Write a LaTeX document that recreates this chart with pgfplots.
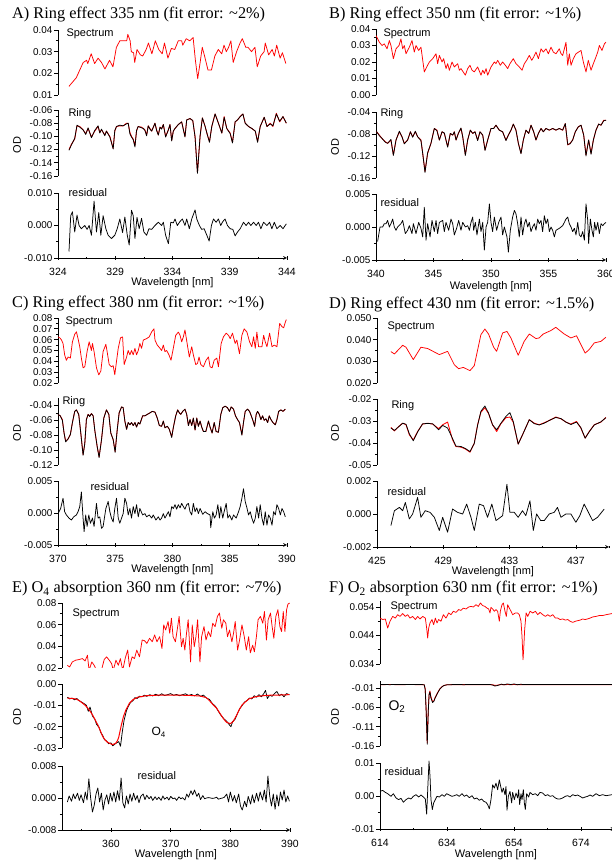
\documentclass[border=0pt]{standalone}
\usepackage{fontspec}
\setmainfont{Liberation Serif}
\setsansfont{Liberation Sans}
\usepackage{pgfplots}
\usepackage{pgfplotstable}
\pgfplotsset{compat=1.18}

\newcommand\tickfont{\sffamily\fontsize{9.9}{11}\selectfont}
\newcommand\xtickfont{\sffamily\fontsize{10.5}{12}\selectfont}
\newcommand\lblfont{\sffamily\fontsize{11}{13}\selectfont}
\newcommand\ttlfont{\rmfamily\fontsize{16.3}{19}\selectfont}
\definecolor{specred}{RGB}{255,0,0}

\pgfplotsset{
  base/.style={
    scale only axis, enlargelimits=false,
    axis y line=left,
    axis line style={-, line width=0.7pt},
    tick align=outside,
    major tick length=4pt, minor tick length=2.2pt,
    tick style={black, line width=0.7pt},
    minor y tick num=1,
    scaled y ticks=false, scaled x ticks=false,
    /pgf/number format/assume math mode=true,
    tick label style={font=\tickfont},
    yticklabel style={inner sep=1.5pt},
    every axis plot/.append style={line width=0.75pt, line join=round, mark=none},
  },
  sub/.style={base, axis x line=none, xtick=\empty},
  subbottom/.style={base, axis x line=bottom,
    xticklabel style={font=\xtickfont, inner sep=2pt, yshift=-6pt}},
}

% ---------------- Ring tables: wavelength, fitted reference, measured ----------------
\pgfplotstableread{
x fit obs
324.96 -0.120 -0.121
325.17 -0.112 -0.113
325.46 -0.104 -0.103
325.66 -0.084 -0.083
325.90 -0.085 -0.086
326.19 -0.090 -0.090
326.42 -0.096 -0.097
326.63 -0.088 -0.087
326.92 -0.101 -0.102
327.21 -0.092 -0.091
327.50 -0.085 -0.084
327.65 -0.094 -0.095
327.80 -0.090 -0.089
328.09 -0.098 -0.099
328.23 -0.092 -0.092
328.53 -0.100 -0.101
328.82 -0.118 -0.119
328.96 -0.092 -0.091
329.11 -0.085 -0.085
329.40 -0.084 -0.083
329.69 -0.084 -0.084
329.99 -0.080 -0.081
330.13 -0.080 -0.080
330.28 -0.094 -0.096
330.42 -0.100 -0.101
330.57 -0.104 -0.105
330.72 -0.114 -0.116
330.86 -0.092 -0.091
331.00 -0.085 -0.085
331.30 -0.086 -0.087
331.45 -0.088 -0.088
331.59 -0.090 -0.091
331.74 -0.098 -0.099
331.88 -0.084 -0.084
332.03 -0.088 -0.089
332.18 -0.092 -0.092
332.47 -0.080 -0.080
332.61 -0.090 -0.091
332.76 -0.098 -0.098
332.91 -0.086 -0.086
333.05 -0.088 -0.089
333.20 -0.082 -0.082
333.40 -0.100 -0.101
333.64 -0.090 -0.090
333.78 -0.082 -0.082
333.93 -0.106 -0.107
334.07 -0.092 -0.092
334.22 -0.088 -0.088
334.51 -0.082 -0.082
334.80 -0.078 -0.078
335.09 -0.100 -0.101
335.24 -0.075 -0.075
335.53 -0.073 -0.073
335.77 -0.076 -0.076
335.97 -0.100 -0.101
336.18 -0.155 -0.156
336.41 -0.100 -0.099
336.61 -0.072 -0.072
336.85 -0.085 -0.085
337.05 -0.098 -0.098
337.23 -0.108 -0.109
337.43 -0.085 -0.085
337.72 -0.066 -0.066
338.01 -0.080 -0.080
338.31 -0.095 -0.095
338.51 -0.070 -0.071
338.74 -0.088 -0.088
339.04 -0.095 -0.096
339.24 -0.109 -0.110
339.47 -0.078 -0.078
339.68 -0.075 -0.075
339.91 -0.070 -0.070
340.15 -0.066 -0.066
340.35 -0.080 -0.080
340.64 -0.085 -0.085
340.93 -0.088 -0.088
341.23 -0.092 -0.092
341.43 -0.108 -0.109
341.66 -0.085 -0.085
342.01 -0.071 -0.071
342.25 -0.085 -0.085
342.54 -0.080 -0.081
342.77 -0.085 -0.084
343.07 -0.065 -0.066
343.36 -0.078 -0.077
343.65 -0.070 -0.070
343.94 -0.080 -0.080
}\ringA

\pgfplotstableread{
x fit obs
340.06 -0.076 -0.076
340.29 -0.082 -0.083
340.52 -0.088 -0.088
340.81 -0.094 -0.095
341.01 -0.097 -0.097
341.30 -0.091 -0.090
341.51 -0.118 -0.119
341.74 -0.091 -0.091
342.03 -0.076 -0.075
342.26 -0.085 -0.085
342.46 -0.097 -0.098
342.75 -0.091 -0.091
342.99 -0.076 -0.076
343.19 -0.085 -0.086
343.42 -0.076 -0.075
343.62 -0.085 -0.085
343.91 -0.091 -0.092
344.06 -0.115 -0.115
344.26 -0.148 -0.150
344.49 -0.115 -0.114
344.78 -0.097 -0.097
345.07 -0.070 -0.070
345.30 -0.073 -0.074
345.51 -0.091 -0.091
345.74 -0.076 -0.076
345.94 -0.079 -0.078
346.23 -0.103 -0.104
346.46 -0.079 -0.079
346.67 -0.082 -0.082
346.81 -0.076 -0.076
346.96 -0.091 -0.091
347.16 -0.079 -0.079
347.39 -0.070 -0.069
347.54 -0.085 -0.085
347.77 -0.118 -0.119
347.97 -0.091 -0.091
348.20 -0.073 -0.073
348.41 -0.079 -0.079
348.61 -0.076 -0.076
348.84 -0.091 -0.092
349.04 -0.076 -0.076
349.28 -0.082 -0.082
349.48 -0.109 -0.110
349.71 -0.091 -0.091
350.00 -0.070 -0.070
350.23 -0.070 -0.070
350.43 -0.064 -0.064
350.72 -0.073 -0.073
351.01 -0.076 -0.076
351.30 -0.091 -0.092
351.51 -0.082 -0.082
351.74 -0.073 -0.073
351.94 -0.062 -0.062
352.17 -0.073 -0.073
352.38 -0.097 -0.097
352.61 -0.115 -0.116
352.81 -0.091 -0.091
353.04 -0.073 -0.073
353.28 -0.079 -0.079
353.48 -0.064 -0.064
353.71 -0.076 -0.076
353.91 -0.091 -0.091
354.12 -0.079 -0.079
354.35 -0.070 -0.070
354.55 -0.076 -0.076
354.78 -0.070 -0.070
355.07 -0.073 -0.073
355.36 -0.070 -0.070
355.65 -0.073 -0.073
355.94 -0.070 -0.070
356.23 -0.073 -0.073
356.46 -0.061 -0.061
356.67 -0.100 -0.099
356.87 -0.097 -0.098
357.10 -0.091 -0.091
357.33 -0.076 -0.076
357.59 -0.067 -0.067
357.83 -0.064 -0.064
358.06 -0.082 -0.082
358.26 -0.118 -0.120
358.49 -0.091 -0.091
358.70 -0.115 -0.117
358.90 -0.091 -0.091
359.13 -0.073 -0.073
359.36 -0.062 -0.062
359.57 -0.064 -0.064
359.80 -0.055 -0.056
360.00 -0.055 -0.055
}\ringB

\pgfplotstableread{
x fit obs
370.00 -0.052 -0.052
370.20 -0.054 -0.054
370.38 -0.059 -0.060
370.53 -0.077 -0.077
370.67 -0.088 -0.089
370.88 -0.085 -0.085
371.08 -0.079 -0.079
371.26 -0.063 -0.063
371.46 -0.048 -0.048
371.61 -0.046 -0.046
371.81 -0.052 -0.052
371.99 -0.077 -0.077
372.19 -0.106 -0.107
372.34 -0.091 -0.091
372.48 -0.059 -0.059
372.63 -0.052 -0.052
372.77 -0.054 -0.055
372.92 -0.051 -0.051
373.07 -0.054 -0.054
373.21 -0.073 -0.073
373.42 -0.095 -0.095
373.59 -0.109 -0.110
373.80 -0.086 -0.086
374.00 -0.057 -0.057
374.23 -0.046 -0.046
374.44 -0.052 -0.052
374.61 -0.077 -0.077
374.82 -0.086 -0.086
374.99 -0.102 -0.103
375.17 -0.073 -0.073
375.34 -0.050 -0.050
375.55 -0.042 -0.042
375.69 -0.043 -0.043
375.84 -0.061 -0.061
375.99 -0.072 -0.072
376.13 -0.063 -0.063
376.28 -0.066 -0.066
376.42 -0.063 -0.063
376.57 -0.067 -0.067
376.72 -0.063 -0.063
376.86 -0.069 -0.069
377.01 -0.063 -0.063
377.15 -0.065 -0.065
377.39 -0.054 -0.054
377.59 -0.054 -0.054
377.80 -0.052 -0.052
378.03 -0.050 -0.050
378.23 -0.048 -0.048
378.47 -0.049 -0.049
378.67 -0.057 -0.057
378.85 -0.067 -0.067
379.05 -0.068 -0.068
379.20 -0.061 -0.061
379.34 -0.070 -0.070
379.55 -0.068 -0.068
379.72 -0.072 -0.072
379.93 -0.082 -0.083
380.07 -0.070 -0.070
380.28 -0.054 -0.054
380.45 -0.046 -0.046
380.60 -0.050 -0.050
380.72 -0.052 -0.052
380.89 -0.048 -0.048
381.09 -0.045 -0.045
381.24 -0.052 -0.052
381.39 -0.067 -0.067
381.53 -0.059 -0.059
381.68 -0.067 -0.067
381.82 -0.057 -0.057
381.97 -0.073 -0.073
382.12 -0.057 -0.057
382.26 -0.068 -0.068
382.41 -0.061 -0.061
382.55 -0.069 -0.069
382.70 -0.075 -0.075
382.91 -0.075 -0.075
383.14 -0.061 -0.061
383.28 -0.069 -0.069
383.46 -0.077 -0.077
383.64 -0.063 -0.063
383.81 -0.075 -0.075
384.01 -0.076 -0.076
384.22 -0.052 -0.052
384.39 -0.043 -0.043
384.60 -0.041 -0.041
384.80 -0.043 -0.043
384.98 -0.048 -0.048
385.12 -0.042 -0.042
385.33 -0.045 -0.045
385.50 -0.054 -0.054
385.68 -0.059 -0.059
385.85 -0.063 -0.063
386.06 -0.079 -0.080
386.20 -0.063 -0.063
386.35 -0.048 -0.048
386.55 -0.045 -0.045
386.73 -0.048 -0.048
386.88 -0.054 -0.054
387.02 -0.060 -0.060
387.17 -0.068 -0.068
387.31 -0.052 -0.052
387.43 -0.048 -0.048
387.58 -0.052 -0.052
387.72 -0.059 -0.059
387.87 -0.054 -0.054
388.01 -0.060 -0.060
388.16 -0.058 -0.058
388.31 -0.063 -0.063
388.45 -0.054 -0.054
388.60 -0.059 -0.059
388.77 -0.063 -0.063
388.98 -0.066 -0.066
389.12 -0.059 -0.059
389.27 -0.048 -0.048
389.47 -0.046 -0.046
389.65 -0.048 -0.048
389.85 -0.045 -0.045
}\ringC

\pgfplotstableread{
x fit obs
425.84 -0.0329 -0.0332
426.05 -0.0345 -0.0343
426.25 -0.0329 -0.0330
426.55 -0.0310 -0.0310
426.75 -0.0317 -0.0315
426.95 -0.0363 -0.0358
427.19 -0.0386 -0.0390
427.45 -0.0348 -0.0350
427.75 -0.0314 -0.0313
428.06 -0.0310 -0.0311
428.36 -0.0314 -0.0313
428.72 -0.0335 -0.0340
428.96 -0.0317 -0.0320
429.26 -0.0305 -0.0332
429.56 -0.0386 -0.0380
429.76 -0.0416 -0.0414
430.07 -0.0419 -0.0416
430.33 -0.0427 -0.0425
430.61 -0.0442 -0.0439
430.87 -0.0401 -0.0402
431.07 -0.0317 -0.0320
431.27 -0.0260 -0.0256
431.51 -0.0240 -0.0232
431.73 -0.0266 -0.0264
431.97 -0.0317 -0.0317
432.22 -0.0348 -0.0340
432.48 -0.0312 -0.0310
432.78 -0.0285 -0.0279
433.02 -0.0282 -0.0262
433.22 -0.0305 -0.0302
433.52 -0.0405 -0.0405
433.78 -0.0363 -0.0363
434.19 -0.0294 -0.0294
434.49 -0.0310 -0.0312
434.79 -0.0317 -0.0318
435.09 -0.0308 -0.0310
435.49 -0.0294 -0.0294
435.79 -0.0282 -0.0284
436.10 -0.0290 -0.0289
436.40 -0.0305 -0.0305
436.70 -0.0314 -0.0316
437.04 -0.0302 -0.0305
437.30 -0.0332 -0.0330
437.56 -0.0378 -0.0378
437.80 -0.0348 -0.0350
438.11 -0.0317 -0.0318
438.51 -0.0305 -0.0304
438.81 -0.0284 -0.0285
}\ringD

\pgfplotstableread{
x fit obs
614.0 -0.0013 -0.0012
617.0 -0.0012 -0.0014
620.0 -0.0013 -0.0011
623.0 -0.0012 -0.0013
626.0 -0.0013 -0.0012
627.2 -0.0016 -0.0015
627.5 -0.0120 -0.0150
627.8 -0.0700 -0.0750
628.1 -0.1520 -0.1555
628.4 -0.0700 -0.0720
628.65 -0.0260 -0.0280
628.9 -0.0180 -0.0203
629.2 -0.0330 -0.0360
629.7 -0.0460 -0.0476
630.1 -0.0430 -0.0440
630.4 -0.0360 -0.0370
630.9 -0.0270 -0.0280
631.4 -0.0190 -0.0200
631.9 -0.0120 -0.0125
632.4 -0.0075 -0.0080
632.9 -0.0045 -0.0045
633.4 -0.0028 -0.0030
634.0 -0.0018 -0.0018
636.0 -0.0013 -0.0012
639.0 -0.0013 -0.0014
642.0 -0.0013 -0.0012
645.0 -0.0013 -0.0013
647.0 -0.0013 -0.0013
647.8 -0.0020 -0.0030
648.3 -0.0035 -0.0050
648.9 -0.0030 -0.0040
649.5 -0.0020 -0.0025
650.2 -0.0012 0.0000
651.0 -0.0014 -0.0020
652.0 -0.0012 0.0005
653.0 -0.0013 -0.0012
654.0 -0.0012 0.0003
655.0 -0.0013 -0.0015
656.0 -0.0013 -0.0005
657.0 -0.0013 -0.0012
660.0 -0.0013 -0.0013
670.0 -0.0013 -0.0012
684.0 -0.0013 -0.0013
}\otwoF

\begin{document}
\begin{tikzpicture}
\useasboundingbox (0pt,0pt) rectangle (612pt,862pt);

% ======================= A) Ring effect 335 nm =======================
\node[anchor=base west, font=\ttlfont, inner sep=0pt] at (12pt,843pt) {A) Ring effect 335 nm (fit error: \textasciitilde2\%)};
\begin{axis}[sub, at={(58pt,767pt)}, anchor=south west, width=229pt, height=65pt,
  xmin=324, xmax=344, ymin=0.01, ymax=0.04,
  ytick={0.01,0.02,0.03,0.04}, yticklabels={0.01,0.02,0.03,0.04}]
\addplot[specred] table {
324.96 0.0140
325.6 0.0180
325.9 0.0215
326.2 0.0250
326.5 0.0260
326.6 0.0245
326.9 0.0290
327.2 0.0245
327.5 0.0270
327.8 0.0250
328.1 0.0220
328.5 0.0260
328.8 0.0230
329.1 0.0320
329.4 0.0350
329.7 0.0350
330.0 0.0350
330.1 0.0380
330.3 0.0350
330.4 0.0300
330.6 0.0295
330.7 0.0250
330.9 0.0310
331.2 0.0285
331.4 0.0280
331.7 0.0310
331.9 0.0340
332.2 0.0290
332.5 0.0350
332.8 0.0310
333.1 0.0290
333.3 0.0340
333.6 0.0270
333.9 0.0315
334.2 0.0310
334.5 0.0350
334.8 0.0350
334.9 0.0330
335.2 0.0360
335.5 0.0350
335.8 0.0365
336.0 0.0260
336.2 0.0175
336.4 0.0245
336.6 0.0320
336.8 0.0280
337.1 0.0215
337.4 0.0215
337.7 0.0280
338.0 0.0310
338.3 0.0290
338.5 0.0330
338.7 0.0300
338.9 0.0320
339.1 0.0350
339.3 0.0250
339.6 0.0300
339.9 0.0340
340.1 0.0360
340.4 0.0320
340.6 0.0320
340.9 0.0300
341.2 0.0320
341.4 0.0230
341.7 0.0280
342.0 0.0300
342.1 0.0340
342.4 0.0285
342.7 0.0310
342.9 0.0280
343.1 0.0330
343.4 0.0270
343.6 0.0295
343.9 0.0245
};
\end{axis}
\begin{axis}[sub, at={(58pt,686pt)}, anchor=south west, width=229pt, height=66pt,
  xmin=324, xmax=344, ymin=-0.16, ymax=-0.06,
  ytick={-0.16,-0.14,-0.12,-0.10,-0.08,-0.06}, yticklabels={-0.16,-0.14,-0.12,-0.10,-0.08,-0.06}]
\addplot[specred, line width=0.85pt] table[y=fit] {\ringA};
\addplot[black] table[y=obs] {\ringA};
\end{axis}
\begin{axis}[subbottom, at={(58pt,604pt)}, anchor=south west, width=229pt, height=65pt,
  xmin=324, xmax=344, ymin=-0.01, ymax=0.01,
  xtick={324,329,334,339,344}, xticklabels={324,329,334,339,344}, minor xtick={326.5,331.5,336.5,341.5},
  ytick={-0.01,0,0.01}, yticklabels={-0.010,0.000,0.010}]
\addplot[black] table {
324.96 -0.0080
325.11 0.0030
325.26 0.0042
325.46 -0.0020
325.66 0.0032
325.84 0.0000
326.04 -0.0010
326.34 0.0000
326.54 -0.0012
326.72 0.0000
326.92 -0.0030
327.15 0.0075
327.36 -0.0020
327.56 0.0040
327.74 -0.0030
327.94 0.0030
328.18 -0.0010
328.38 -0.0030
328.67 -0.0040
328.96 -0.0030
329.17 -0.0010
329.40 0.0020
329.64 -0.0022
329.84 0.0026
330.05 -0.0030
330.22 -0.0060
330.42 0.0047
330.57 0.0030
330.72 -0.0040
330.90 0.0025
331.09 -0.0010
331.30 0.0022
331.50 -0.0020
331.74 -0.0030
331.94 -0.0010
332.18 -0.0012
332.47 0.0000
332.76 0.0010
333.05 0.0000
333.20 0.0010
333.40 -0.0030
333.64 -0.0056
333.85 0.0010
334.07 0.0008
334.22 0.0020
334.42 0.0000
334.65 0.0012
334.86 0.0020
335.09 0.0000
335.24 0.0020
335.47 -0.0010
335.68 0.0020
335.97 0.0048
336.12 0.0020
336.35 0.0000
336.55 -0.0012
336.76 -0.0010
337.00 -0.0030
337.20 -0.0048
337.40 0.0000
337.58 0.0020
337.81 0.0010
338.01 0.0020
338.21 0.0000
338.39 0.0012
338.59 0.0020
338.80 0.0000
339.04 -0.0010
339.27 -0.0012
339.47 -0.0032
339.68 -0.0020
339.91 -0.0010
340.20 0.0010
340.43 0.0000
340.64 0.0010
340.84 0.0000
341.08 0.0010
341.31 0.0000
341.51 0.0010
341.72 -0.0010
341.95 0.0010
342.25 0.0000
342.48 0.0010
342.68 -0.0010
342.89 0.0010
343.12 -0.0010
343.41 0.0000
343.65 -0.0010
343.94 0.0005
};
\end{axis}
\node[anchor=west, font=\lblfont] at (63pt,828pt) {Spectrum};
\node[anchor=west, font=\lblfont] at (65pt,748pt) {Ring};
\node[anchor=west, font=\lblfont] at (65pt,669pt) {residual};
\node[rotate=90, font=\lblfont] at (17pt,717pt) {OD};
\node[font=\lblfont] at (172.5pt,579pt) {Wavelength [nm]};

% ======================= B) Ring effect 350 nm =======================
\node[anchor=base west, font=\ttlfont, inner sep=0pt] at (329pt,843pt) {B) Ring effect 350 nm (fit error: \textasciitilde1\%)};
\begin{axis}[sub, at={(376pt,767pt)}, anchor=south west, width=230pt, height=66pt,
  xmin=340, xmax=360, ymin=0, ymax=0.04,
  ytick={0,0.01,0.02,0.03,0.04}, yticklabels={0.00,0.01,0.02,0.03,0.04}]
\addplot[specred] table {
340.0 0.036
340.29 0.032
340.52 0.030
340.72 0.031
340.96 0.028
341.16 0.033
341.3 0.030
341.51 0.022
341.74 0.028
342.0 0.030
342.17 0.034
342.32 0.028
342.46 0.030
342.61 0.025
342.9 0.029
343.13 0.033
343.33 0.026
343.48 0.030
343.71 0.027
343.91 0.029
344.2 0.014
344.41 0.017
344.64 0.020
344.93 0.022
345.22 0.025
345.36 0.019
345.51 0.024
345.74 0.020
345.88 0.022
346.09 0.016
346.23 0.019
346.38 0.015
346.61 0.020
346.81 0.017
347.1 0.019
347.25 0.015
347.39 0.016
347.77 0.012
347.97 0.016
348.17 0.018
348.35 0.015
348.55 0.014
348.84 0.017
349.13 0.012
349.28 0.015
349.42 0.013
349.57 0.016
349.71 0.012
350.0 0.017
350.29 0.020
350.43 0.019
350.58 0.021
350.81 0.018
351.01 0.020
351.25 0.018
351.45 0.016
351.65 0.019
351.94 0.022
352.17 0.019
352.46 0.017
352.7 0.015
352.9 0.019
353.1 0.021
353.33 0.024
353.54 0.021
353.71 0.023
353.91 0.026
354.12 0.022
354.35 0.028
354.55 0.026
354.78 0.028
354.99 0.025
355.22 0.029
355.42 0.026
355.65 0.025
355.94 0.028
356.09 0.025
356.23 0.024
356.38 0.028
356.52 0.032
356.67 0.018
356.81 0.025
356.96 0.018
357.16 0.022
357.39 0.025
357.83 0.027
358.03 0.020
358.26 0.014
358.46 0.021
358.7 0.015
358.9 0.019
359.07 0.022
359.28 0.026
359.42 0.030
359.65 0.027
359.86 0.031
360.0 0.032
};
\end{axis}
\begin{axis}[sub, at={(376pt,684pt)}, anchor=south west, width=230pt, height=66pt,
  xmin=340, xmax=360, ymin=-0.16, ymax=-0.04,
  ytick={-0.16,-0.12,-0.08,-0.04}, yticklabels={-0.16,-0.12,-0.08,-0.04}]
\addplot[specred, line width=0.85pt] table[y=fit] {\ringB};
\addplot[black] table[y=obs] {\ringB};
\end{axis}
\begin{axis}[subbottom, at={(376pt,602pt)}, anchor=south west, width=230pt, height=66pt,
  xmin=340, xmax=360, ymin=-0.005, ymax=0.005,
  xtick={340,345,350,355,360}, xticklabels={340,345,350,355,360}, minor xtick={342.5,347.5,352.5,357.5},
  ytick={-0.005,0,0.005}, yticklabels={-0.005,0.000,0.005}]
\addplot[black] table {
340.14 -0.0022
340.35 0.0000
340.58 0.0000
340.72 0.0005
340.87 0.0005
341.01 0.0010
341.16 0.0000
341.30 0.0005
341.45 0.0012
341.59 0.0000
341.74 -0.0005
341.88 0.0000
342.17 0.0005
342.32 0.0010
342.55 -0.0010
342.75 -0.0005
342.90 0.0002
343.13 -0.0010
343.25 0.0005
343.48 -0.0010
343.71 0.0007
343.91 -0.0002
344.06 -0.0015
344.20 0.0030
344.35 -0.0020
344.49 0.0005
344.70 -0.0015
344.87 0.0010
345.07 -0.0007
345.22 0.0010
345.36 -0.0010
345.51 0.0007
345.80 0.0010
345.94 -0.0007
346.09 0.0007
346.32 -0.0005
346.52 0.0012
346.67 0.0005
346.81 -0.0012
347.01 -0.0002
347.19 0.0010
347.39 -0.0005
347.54 0.0007
347.77 0.0000
347.97 0.0002
348.12 -0.0005
348.26 0.0007
348.41 0.0015
348.49 -0.0005
348.64 0.0007
348.78 -0.0012
348.99 0.0012
349.13 -0.0007
349.28 0.0007
349.42 -0.0035
349.57 0.0000
349.71 0.0007
349.86 0.0035
350.00 0.0007
350.14 -0.0007
350.29 0.0015
350.49 -0.0005
350.67 0.0007
350.87 0.0015
351.01 -0.0012
351.16 0.0000
351.39 -0.0015
351.51 -0.0038
351.68 -0.0005
351.88 0.0015
352.03 0.0025
352.17 0.0020
352.32 0.0005
352.46 -0.0015
352.61 0.0015
352.75 -0.0012
352.90 0.0005
353.04 0.0012
353.19 0.0000
353.33 0.0007
353.48 -0.0007
353.62 0.0000
353.77 0.0005
353.91 -0.0005
354.06 0.0012
354.20 0.0005
354.35 0.0010
354.49 -0.0007
354.64 0.0017
354.78 0.0005
354.93 0.0012
355.07 -0.0007
355.22 0.0000
355.36 -0.0005
355.51 -0.0015
355.65 -0.0005
355.94 -0.0002
356.09 0.0000
356.23 0.0002
356.38 0.0007
356.52 0.0012
356.67 0.0015
356.81 0.0005
356.96 0.0000
357.10 -0.0007
357.25 -0.0002
357.39 -0.0012
357.54 0.0007
357.68 -0.0012
357.83 -0.0015
357.97 -0.0007
358.12 -0.0020
358.26 0.0035
358.41 0.0010
358.49 -0.0025
358.64 0.0012
358.78 -0.0005
358.90 -0.0015
359.01 0.0007
359.13 -0.0005
359.28 0.0007
359.42 -0.0010
359.57 0.0005
359.71 0.0002
359.86 0.0005
360.00 0.0007
};
\end{axis}
\node[anchor=west, font=\lblfont] at (380pt,828pt) {Spectrum};
\node[anchor=west, font=\lblfont] at (377pt,748pt) {Ring};
\node[anchor=west, font=\lblfont] at (377pt,659pt) {residual};
\node[rotate=90, font=\lblfont] at (335pt,715pt) {OD};
\node[font=\lblfont] at (491pt,575pt) {Wavelength [nm]};

% ======================= C) Ring effect 380 nm =======================
\node[anchor=base west, font=\ttlfont, inner sep=0pt] at (12pt,554pt) {C) Ring effect 380 nm (fit error: \textasciitilde1\%)};
\begin{axis}[sub, at={(58pt,479pt)}, anchor=south west, width=229pt, height=65pt,
  xmin=370, xmax=390, ymin=0.02, ymax=0.08,
  ytick={0.02,0.03,0.04,0.05,0.06,0.07,0.08}, yticklabels={0.02,0.03,0.04,0.05,0.06,0.07,0.08}]
\addplot[specred] table {
370.00 0.0626
370.15 0.0617
370.29 0.0600
370.44 0.0565
370.58 0.0460
370.73 0.0410
370.88 0.0440
371.08 0.0430
371.26 0.0580
371.46 0.0650
371.61 0.0672
371.75 0.0610
371.90 0.0535
372.04 0.0430
372.19 0.0340
372.34 0.0350
372.54 0.0490
372.72 0.0580
372.92 0.0500
373.01 0.0565
373.15 0.0490
373.36 0.0340
373.56 0.0275
373.74 0.0310
373.94 0.0490
374.18 0.0557
374.29 0.0490
374.47 0.0370
374.67 0.0350
374.82 0.0360
374.96 0.0276
375.11 0.0400
375.26 0.0520
375.46 0.0617
375.64 0.0626
375.78 0.0370
375.99 0.0440
376.13 0.0500
376.28 0.0460
376.42 0.0500
376.57 0.0460
376.72 0.0520
376.86 0.0460
377.01 0.0500
377.15 0.0565
377.30 0.0520
377.45 0.0596
377.74 0.0610
377.97 0.0626
378.18 0.0672
378.38 0.0700
378.47 0.0596
378.67 0.0550
378.91 0.0520
379.05 0.0500
379.20 0.0550
379.34 0.0490
379.49 0.0500
379.69 0.0460
379.87 0.0410
380.07 0.0520
380.28 0.0640
380.51 0.0670
380.66 0.0640
380.80 0.0580
380.95 0.0626
381.09 0.0690
381.30 0.0550
381.47 0.0440
381.68 0.0535
381.82 0.0460
382.03 0.0370
382.18 0.0380
382.32 0.0440
382.47 0.0370
382.70 0.0350
382.93 0.0410
383.14 0.0440
383.28 0.0350
383.46 0.0340
383.64 0.0410
383.87 0.0430
384.01 0.0350
384.25 0.0565
384.45 0.0626
384.69 0.0660
384.89 0.0640
385.04 0.0610
385.24 0.0660
385.47 0.0565
385.62 0.0596
385.85 0.0470
386.06 0.0640
386.26 0.0700
386.50 0.0670
386.73 0.0580
386.93 0.0535
387.08 0.0626
387.23 0.0520
387.37 0.0670
387.52 0.0535
387.81 0.0535
387.96 0.0640
388.10 0.0580
388.25 0.0535
388.48 0.0660
388.69 0.0535
388.89 0.0550
389.12 0.0535
389.36 0.0750
389.56 0.0720
389.71 0.0710
389.85 0.0760
389.94 0.0785
};
\end{axis}
\begin{axis}[sub, at={(58pt,397pt)}, anchor=south west, width=229pt, height=67pt,
  xmin=370, xmax=390, ymin=-0.12, ymax=-0.03,
  ytick={-0.12,-0.10,-0.08,-0.06,-0.04}, yticklabels={-0.12,-0.10,-0.08,-0.06,-0.04}]
\addplot[specred, line width=0.85pt] table[y=fit] {\ringC};
\addplot[black] table[y=obs] {\ringC};
\end{axis}
\begin{axis}[subbottom, at={(58pt,317pt)}, anchor=south west, width=229pt, height=64pt,
  xmin=370, xmax=390, ymin=-0.005, ymax=0.005,
  xtick={370,375,380,385,390}, xticklabels={370,375,380,385,390}, minor xtick={372.5,377.5,382.5,387.5},
  ytick={-0.005,0,0.005}, yticklabels={-0.005,0.000,0.005}]
\addplot[black] table {
370.00 -0.0001
370.23 0.0007
370.44 0.0023
370.58 0.0002
370.73 -0.0003
370.96 -0.0008
371.17 -0.0011
371.37 -0.0006
371.61 -0.0003
371.75 0.0002
371.90 0.0010
372.04 0.0033
372.19 -0.0008
372.28 -0.0029
372.42 -0.0003
372.54 -0.0021
372.69 -0.0003
372.83 -0.0016
373.01 -0.0008
373.15 -0.0021
373.36 0.0015
373.50 -0.0008
373.65 -0.0006
373.80 -0.0024
373.94 -0.0021
374.18 0.0007
374.38 0.0018
374.53 0.0002
374.67 -0.0008
374.82 -0.0014
374.96 0.0007
375.11 0.0023
375.26 -0.0008
375.40 -0.0016
375.55 -0.0008
375.69 -0.0001
375.84 0.0023
375.99 0.0015
376.13 -0.0003
376.28 0.0007
376.42 -0.0008
376.57 0.0010
376.72 -0.0001
376.86 0.0013
377.01 -0.0006
377.15 0.0007
377.39 -0.0003
377.59 -0.0001
377.74 -0.0006
377.97 -0.0003
378.18 -0.0008
378.32 -0.0003
378.55 -0.0011
378.76 -0.0006
378.91 -0.0011
379.05 -0.0008
379.20 -0.0001
379.34 -0.0008
379.49 -0.0003
379.64 0.0002
379.78 -0.0006
379.93 0.0010
380.07 0.0007
380.22 0.0013
380.36 0.0006
380.51 0.0013
380.66 0.0008
380.80 0.0015
380.95 0.0010
381.09 0.0006
381.24 0.0013
381.39 0.0015
381.53 0.0002
381.68 -0.0003
381.82 0.0015
381.97 0.0002
382.12 0.0008
382.26 -0.0001
382.41 0.0007
382.64 -0.0002
382.85 0.0002
383.05 -0.0001
383.28 -0.0003
383.34 -0.0023
383.52 0.0002
383.66 -0.0008
383.81 -0.0003
383.96 0.0013
384.10 -0.0008
384.22 0.0010
384.39 -0.0008
384.51 0.0002
384.69 0.0015
384.83 -0.0008
384.98 -0.0003
385.18 -0.0011
385.33 -0.0003
385.56 -0.0008
385.77 0.0002
385.91 0.0010
386.06 0.0023
386.20 0.0038
386.35 0.0018
386.50 0.0008
386.64 -0.0003
386.79 0.0002
386.93 -0.0008
387.08 -0.0016
387.23 -0.0008
387.37 0.0010
387.52 -0.0008
387.66 0.0013
387.81 -0.0008
387.96 -0.0019
388.10 0.0002
388.25 -0.0019
388.39 -0.0003
388.54 -0.0008
388.69 -0.0019
388.83 0.0002
388.98 -0.0003
389.12 0.0013
389.27 0.0007
389.42 -0.0003
389.56 0.0007
389.71 0.0002
389.85 -0.0006
};
\end{axis}
\node[anchor=west, font=\lblfont] at (62pt,540pt) {Spectrum};
\node[anchor=west, font=\lblfont] at (59pt,460pt) {Ring};
\node[anchor=west, font=\lblfont] at (87pt,375pt) {residual};
\node[rotate=90, font=\lblfont] at (17pt,429pt) {OD};
\node[font=\lblfont] at (172.5pt,292pt) {Wavelength [nm]};

% ======================= D) Ring effect 430 nm =======================
\node[anchor=base west, font=\ttlfont, inner sep=0pt] at (329pt,553pt) {D) Ring effect 430 nm (fit error: \textasciitilde1.5\%)};
\begin{axis}[sub, at={(377pt,479pt)}, anchor=south west, width=232pt, height=65pt,
  xmin=425, xmax=439, ymin=0.02, ymax=0.05,
  ytick={0.02,0.03,0.04,0.05}, yticklabels={0.020,0.030,0.040,0.050}]
\addplot[specred] table {
425.84 0.0345
426.05 0.0334
426.55 0.0374
426.75 0.0365
427.19 0.0308
427.65 0.0365
428.06 0.0359
428.76 0.0331
429.26 0.0346
429.66 0.0285
429.92 0.0266
430.21 0.0272
430.61 0.0257
430.87 0.0280
431.27 0.0423
431.51 0.0449
431.73 0.0426
432.04 0.0365
432.22 0.0346
432.58 0.0431
432.84 0.0438
433.08 0.0408
433.52 0.0328
433.88 0.0392
434.19 0.0426
434.59 0.0405
434.79 0.0408
435.03 0.0426
435.49 0.0442
435.79 0.0457
436.30 0.0426
436.70 0.0408
437.04 0.0418
437.56 0.0338
437.80 0.0354
438.11 0.0385
438.51 0.0392
438.81 0.0411
};
\end{axis}
\begin{axis}[sub, at={(377pt,397pt)}, anchor=south west, width=232pt, height=66pt,
  xmin=425, xmax=439, ymin=-0.05, ymax=-0.02,
  ytick={-0.05,-0.04,-0.03,-0.02}, yticklabels={-0.05,-0.04,-0.03,-0.02}]
\addplot[specred, line width=0.85pt] table[y=fit] {\ringD};
\addplot[black] table[y=obs] {\ringD};
\end{axis}
\begin{axis}[subbottom, at={(377pt,315pt)}, anchor=south west, width=232pt, height=66pt,
  xmin=425, xmax=439, ymin=-0.002, ymax=0.002,
  xtick={425,429,433,437}, xticklabels={425,429,433,437}, minor xtick={427,431,435,439},
  ytick={-0.002,0,0.002}, yticklabels={-0.002,0.000,0.002}]
\addplot[black] table {
425.84 -0.0007
426.05 0.0002
426.35 0.0004
426.55 0.0002
426.71 0.0007
426.95 -0.0003
427.15 0.0000
427.45 0.0010
427.65 -0.0002
427.91 0.0002
428.20 0.0001
428.46 -0.0002
428.76 -0.0010
428.96 -0.0002
429.26 -0.0011
429.56 0.0003
429.86 0.0001
430.17 0.0000
430.41 0.0006
430.67 -0.0002
430.87 -0.0010
431.17 0.0006
431.43 0.0005
431.67 -0.0002
431.93 0.0006
432.18 -0.0004
432.58 -0.0001
432.84 0.0018
433.02 0.0001
433.28 0.0001
433.52 -0.0002
433.78 0.0002
433.98 -0.0001
434.23 0.0008
434.43 -0.0010
434.63 0.0000
434.88 -0.0004
435.09 -0.0004
435.39 0.0000
435.69 0.0001
435.89 0.0004
436.10 -0.0002
436.40 0.0000
436.70 0.0000
437.00 -0.0005
437.24 -0.0001
437.50 0.0006
437.76 0.0001
438.01 -0.0004
438.31 -0.0002
438.71 0.0003
};
\end{axis}
\node[anchor=west, font=\lblfont] at (384pt,535pt) {Spectrum};
\node[anchor=west, font=\lblfont] at (388pt,456pt) {Ring};
\node[anchor=west, font=\lblfont] at (384pt,370pt) {residual};
\node[rotate=90, font=\lblfont] at (335pt,429pt) {OD};
\node[font=\lblfont] at (493pt,290pt) {Wavelength [nm]};

% ======================= E) O4 absorption 360 nm =======================
\node[anchor=base west, font=\ttlfont, inner sep=0pt] at (12pt,269pt) {E) O\textsubscript{4} absorption 360 nm (fit error: \textasciitilde7\%)};
\begin{axis}[sub, at={(62pt,194pt)}, anchor=south west, width=228pt, height=65pt,
  xmin=351.8, xmax=390, ymin=0.02, ymax=0.08,
  ytick={0.02,0.04,0.06,0.08}, yticklabels={0.02,0.04,0.06,0.08}]
\addplot[specred] table {
352.68 0.0225
353.08 0.0210
353.53 0.0256
354.09 0.0272
354.65 0.0278
355.22 0.0287
355.67 0.0265
356.06 0.0318
356.34 0.0178
356.79 0.0256
357.19 0.0225
357.58 0.0178
358.03 0.0133
358.48 0.0194
358.87 0.0278
359.27 0.0303
359.72 0.0272
360.11 0.0240
360.39 0.0178
360.84 0.0272
361.24 0.0225
361.58 0.0287
361.97 0.0178
362.42 0.0296
362.81 0.0365
363.10 0.0210
363.55 0.0303
363.94 0.0287
364.33 0.0365
364.78 0.0303
365.23 0.0458
365.63 0.0452
366.02 0.0427
366.47 0.0474
366.92 0.0442
367.32 0.0505
367.71 0.0442
368.16 0.0489
368.55 0.0380
368.84 0.0598
369.17 0.0551
369.57 0.0629
369.85 0.0520
370.13 0.0660
370.41 0.0489
370.80 0.0442
371.14 0.0567
371.42 0.0676
371.82 0.0396
372.10 0.0474
372.38 0.0365
372.66 0.0520
372.94 0.0645
373.34 0.0256
373.62 0.0598
373.96 0.0396
374.24 0.0489
374.52 0.0645
374.91 0.0256
375.19 0.0489
375.59 0.0582
375.93 0.0458
376.32 0.0536
376.71 0.0489
377.05 0.0613
377.45 0.0582
377.84 0.0676
378.18 0.0707
378.57 0.0567
378.85 0.0645
379.25 0.0613
379.53 0.0489
379.87 0.0551
380.26 0.0442
380.54 0.0520
380.82 0.0629
381.22 0.0365
381.55 0.0458
381.95 0.0598
382.34 0.0489
382.68 0.0365
383.07 0.0489
383.35 0.0340
383.75 0.0411
384.03 0.0349
384.37 0.0489
384.65 0.0645
385.04 0.0676
385.44 0.0613
385.72 0.0722
386.05 0.0458
386.34 0.0645
386.73 0.0707
387.01 0.0582
387.29 0.0474
387.63 0.0676
387.97 0.0738
388.31 0.0582
388.59 0.0536
388.87 0.0722
389.15 0.0536
389.43 0.0738
389.66 0.0790
389.94 0.0800
};
\end{axis}
\begin{axis}[sub, at={(62pt,114pt)}, anchor=south west, width=228pt, height=64pt,
  xmin=351.8, xmax=390, ymin=-0.03, ymax=0,
  ytick={-0.03,-0.02,-0.01,0}, yticklabels={-0.03,-0.02,-0.01,0.00}]
\addplot[black] table {
352.7 -0.0062
353.1 -0.0070
353.5 -0.0066
353.9 -0.0074
354.3 -0.0068
354.7 -0.0079
355.1 -0.0085
355.5 -0.0092
355.9 -0.0100
356.2 -0.0128
356.5 -0.0108
356.9 -0.0150
357.3 -0.0165
357.6 -0.0190
358.0 -0.0202
358.3 -0.0228
358.6 -0.0240
358.9 -0.0260
359.3 -0.0268
359.6 -0.0280
360.0 -0.0276
360.3 -0.0290
360.6 -0.0283
361.0 -0.0275
361.3 -0.0270
361.6 -0.0292
361.9 -0.0225
362.2 -0.0170
362.6 -0.0125
362.9 -0.0105
363.3 -0.0086
363.7 -0.0078
364.0 -0.0064
364.4 -0.0068
364.8 -0.0057
365.2 -0.0060
365.6 -0.0052
366.0 -0.0058
366.5 -0.0050
367.0 -0.0056
367.5 -0.0048
368.0 -0.0055
368.5 -0.0046
369.0 -0.0054
369.5 -0.0050
370.0 -0.0045
370.5 -0.0053
371.0 -0.0049
371.5 -0.0055
372.0 -0.0050
372.5 -0.0046
373.0 -0.0054
373.5 -0.0049
374.0 -0.0056
374.5 -0.0047
375.0 -0.0058
375.5 -0.0052
376.0 -0.0066
376.5 -0.0072
377.0 -0.0092
377.5 -0.0104
378.0 -0.0128
378.5 -0.0150
379.0 -0.0165
379.4 -0.0175
379.8 -0.0190
380.1 -0.0200
380.4 -0.0176
380.8 -0.0165
381.2 -0.0138
381.6 -0.0115
382.0 -0.0100
382.4 -0.0084
382.8 -0.0078
383.2 -0.0066
383.6 -0.0070
384.0 -0.0055
384.4 -0.0062
384.8 -0.0050
385.2 -0.0060
385.6 -0.0045
385.9 -0.0030
386.2 -0.0068
386.6 -0.0052
387.0 -0.0058
387.4 -0.0045
387.8 -0.0035
388.2 -0.0055
388.6 -0.0048
389.0 -0.0060
389.4 -0.0045
389.9 -0.0050
};
\addplot[specred, line width=1pt] table {
352.7 -0.0066
353.5 -0.0068
354.1 -0.0070
354.7 -0.0078
355.2 -0.0089
355.7 -0.0100
356.1 -0.0113
356.5 -0.0127
356.9 -0.0144
357.3 -0.0165
357.8 -0.0192
358.2 -0.0218
358.6 -0.0245
359.0 -0.0262
359.4 -0.0273
359.9 -0.0280
360.3 -0.0284
360.8 -0.0278
361.1 -0.0265
361.3 -0.0250
361.7 -0.0198
362.1 -0.0152
362.5 -0.0122
363.1 -0.0090
363.7 -0.0073
364.5 -0.0062
365.9 -0.0055
368.2 -0.0052
370.4 -0.0052
372.7 -0.0053
374.9 -0.0056
376.0 -0.0064
376.6 -0.0081
377.2 -0.0100
377.7 -0.0113
378.2 -0.0135
378.6 -0.0152
379.0 -0.0168
379.4 -0.0180
380.0 -0.0186
380.5 -0.0175
381.1 -0.0144
381.5 -0.0120
382.0 -0.0097
382.6 -0.0082
383.1 -0.0070
383.8 -0.0063
384.5 -0.0058
386.2 -0.0053
387.9 -0.0052
389.9 -0.0050
};
\end{axis}
\begin{axis}[subbottom, at={(62pt,32pt)}, anchor=south west, width=228pt, height=64pt,
  xmin=351.8, xmax=390, ymin=-0.008, ymax=0.008,
  xtick={360,370,380,390}, xticklabels={360,370,380,390}, minor xtick={355,365,375,385},
  ytick={-0.008,0,0.008}, yticklabels={-0.008,0.000,0.008}]
\addplot[black] table {
352.7 -0.0010
353.0 0.0005
353.4 -0.0008
353.7 0.0010
354.0 -0.0002
354.4 0.0012
354.7 -0.0006
355.0 0.0008
355.4 -0.0012
355.7 0.0015
356.0 -0.0005
356.3 0.0048
356.6 0.0000
356.9 -0.0035
357.2 -0.0018
357.5 0.0010
357.8 0.0025
358.1 -0.0010
358.4 0.0012
358.7 -0.0030
359.0 -0.0005
359.3 0.0008
359.6 -0.0015
359.9 0.0012
360.2 -0.0008
360.5 0.0015
360.8 -0.0010
361.1 0.0018
361.4 -0.0006
361.7 0.0050
362.0 -0.0012
362.3 -0.0025
362.6 0.0005
362.9 -0.0015
363.2 0.0010
363.5 -0.0008
363.8 0.0012
364.1 -0.0005
364.4 0.0006
364.7 -0.0012
365.0 0.0004
365.4 0.0010
365.7 -0.0004
366.0 0.0007
366.4 -0.0002
366.7 0.0004
367.0 -0.0006
367.4 0.0003
367.7 -0.0004
368.0 0.0002
368.4 -0.0006
368.7 0.0005
369.0 -0.0003
369.4 0.0002
369.7 -0.0005
370.0 0.0004
370.4 -0.0002
370.7 0.0000
371.0 -0.0006
371.4 0.0003
371.7 -0.0002
372.0 0.0001
372.4 -0.0005
372.7 0.0010
373.0 0.0002
373.4 0.0018
373.7 0.0008
374.0 0.0020
374.4 0.0004
374.7 0.0012
375.0 -0.0004
375.4 0.0006
375.7 -0.0002
376.0 0.0000
376.4 0.0001
376.7 0.0000
377.0 -0.0001
377.4 0.0000
377.7 0.0002
378.0 -0.0003
378.4 -0.0001
378.7 0.0000
379.0 0.0002
379.4 0.0010
379.7 -0.0010
380.0 0.0015
380.4 -0.0008
380.7 0.0006
381.0 -0.0012
381.4 0.0010
381.7 -0.0020
382.0 -0.0030
382.4 -0.0008
382.7 -0.0022
383.0 0.0004
383.4 -0.0015
383.7 0.0008
384.0 -0.0012
384.4 0.0012
384.7 -0.0008
385.0 0.0015
385.4 -0.0005
385.7 0.0020
386.0 -0.0010
386.3 0.0055
386.6 0.0005
386.9 -0.0020
387.2 0.0010
387.5 -0.0028
387.8 0.0008
388.1 -0.0020
388.4 0.0015
388.7 -0.0005
389.0 0.0020
389.3 -0.0010
389.6 0.0005
389.9 -0.0008
};
\end{axis}
\node[anchor=west, font=\lblfont] at (69pt,248pt) {Spectrum};
\node[anchor=west, font=\fontsize{12}{14}\sffamily\selectfont] at (148pt,130pt) {O\textsubscript{4}};
\node[anchor=west, font=\lblfont] at (134pt,86pt) {residual};
\node[rotate=90, font=\lblfont] at (17pt,145pt) {OD};
\node[font=\lblfont] at (176pt,7pt) {Wavelength [nm]};

% ======================= F) O2 absorption 630 nm =======================
\node[anchor=base west, font=\ttlfont, inner sep=0pt] at (329pt,269pt) {F) O\textsubscript{2} absorption 630 nm (fit error: \textasciitilde1\%)};
\begin{axis}[sub, at={(380pt,198pt)}, anchor=south west, width=234.5pt, height=62.7pt,
  xmin=614, xmax=684, ymin=0.034, ymax=0.056,
  ytick={0.034,0.044,0.054}, yticklabels={0.034,0.044,0.054}]
\addplot[specred] table {
614.00 0.0501
614.80 0.0496
615.59 0.0498
616.29 0.0466
616.99 0.0490
617.78 0.0507
618.58 0.0501
619.27 0.0513
619.97 0.0507
620.77 0.0517
621.56 0.0507
622.26 0.0513
622.96 0.0501
623.75 0.0507
624.55 0.0496
625.24 0.0507
625.94 0.0498
626.74 0.0507
627.53 0.0501
627.93 0.0466
628.23 0.0431
628.53 0.0466
628.93 0.0484
629.52 0.0496
630.02 0.0478
630.52 0.0501
631.01 0.0484
631.51 0.0496
632.21 0.0490
632.91 0.0513
633.70 0.0501
634.50 0.0519
635.19 0.0513
635.89 0.0525
636.69 0.0521
637.48 0.0531
638.18 0.0528
638.88 0.0536
639.67 0.0533
640.47 0.0540
641.16 0.0542
641.86 0.0540
642.66 0.0548
643.35 0.0542
643.95 0.0554
644.65 0.0545
645.34 0.0542
645.94 0.0536
646.44 0.0533
646.84 0.0519
647.13 0.0539
647.63 0.0533
648.13 0.0525
648.63 0.0531
649.12 0.0525
649.62 0.0490
649.92 0.0525
650.42 0.0548
650.82 0.0554
651.31 0.0525
651.71 0.0507
652.11 0.0548
652.61 0.0536
653.10 0.0525
653.60 0.0513
654.40 0.0519
655.09 0.0519
655.59 0.0513
656.09 0.0490
656.39 0.0437
656.59 0.0384
656.69 0.0355
656.89 0.0391
657.18 0.0460
657.61 0.0519
658.11 0.0507
658.81 0.0525
659.60 0.0519
660.40 0.0525
661.09 0.0513
661.79 0.0521
662.59 0.0513
663.38 0.0507
664.08 0.0513
664.78 0.0507
665.57 0.0513
666.37 0.0501
667.06 0.0501
667.76 0.0496
668.56 0.0498
669.35 0.0494
670.05 0.0496
670.75 0.0490
671.54 0.0486
672.34 0.0490
673.03 0.0492
673.73 0.0494
674.53 0.0498
675.22 0.0496
675.92 0.0498
676.69 0.0501
677.48 0.0505
678.48 0.0507
679.47 0.0510
680.47 0.0510
681.47 0.0513
683.25 0.0517
};
\end{axis}
\begin{axis}[sub, at={(380pt,116pt)}, anchor=south west, width=234.5pt, height=65pt,
  xmin=614, xmax=684, ymin=-0.16, ymax=0.008,
  ytick={-0.16,-0.11,-0.06,-0.01}, yticklabels={-0.16,-0.11,-0.06,-0.01}]
\addplot[specred, line width=0.85pt] table[y=fit] {\otwoF};
\addplot[black] table[y=obs] {\otwoF};
\end{axis}
\begin{axis}[subbottom, at={(380pt,33pt)}, anchor=south west, width=234.5pt, height=66pt,
  xmin=614, xmax=684, ymin=-0.01, ymax=0.01, clip=false,
  xtick={614,634,654,674}, xticklabels={614,634,654,674}, minor xtick={624,644,664},
  ytick={-0.01,0,0.01}, yticklabels={-0.01,0.00,0.01}]
\addplot[black] table {
614.00 0.0014
614.80 0.0017
615.59 0.0011
616.29 0.0007
617.28 -0.0001
617.98 0.0007
618.78 -0.0006
619.57 -0.0011
620.27 -0.0007
620.97 -0.0019
621.76 -0.0011
622.56 -0.0006
623.25 -0.0009
623.95 -0.0001
624.75 0.0004
625.54 -0.0003
626.24 0.0003
626.94 -0.0003
627.53 -0.0009
627.93 -0.0055
628.33 0.0039
628.63 0.0106
628.93 0.0060
629.22 -0.0011
629.62 -0.0041
630.02 -0.0021
630.52 -0.0011
631.01 -0.0001
631.71 -0.0003
632.51 0.0004
633.20 -0.0001
633.90 0.0007
634.70 0.0003
635.49 -0.0001
636.19 0.0001
636.89 0.0004
637.68 -0.0001
638.48 0.0007
639.17 -0.0001
639.87 0.0003
640.67 -0.0005
641.46 0.0001
642.16 -0.0009
642.86 -0.0006
643.65 -0.0013
644.35 -0.0009
644.95 -0.0016
645.64 -0.0019
646.14 -0.0026
646.64 -0.0039
647.13 -0.0011
647.63 0.0034
648.13 0.0024
648.63 0.0039
649.12 0.0019
649.62 0.0049
649.92 0.0034
650.42 0.0011
650.82 0.0024
651.31 0.0004
651.61 0.0029
651.91 -0.0043
652.31 -0.0001
652.81 0.0014
653.30 -0.0021
653.60 0.0011
654.10 -0.0011
654.60 0.0009
655.09 -0.0006
655.39 0.0019
655.69 -0.0026
656.09 0.0007
656.39 -0.0011
656.79 0.0019
657.09 -0.0021
657.38 -0.0041
657.78 0.0007
658.38 -0.0003
658.78 0.0011
659.57 0.0004
660.37 0.0007
661.07 0.0001
661.76 0.0011
662.56 0.0009
663.35 0.0001
664.05 0.0004
664.75 -0.0001
665.54 0.0001
666.34 -0.0006
667.04 -0.0009
667.73 -0.0009
668.53 -0.0006
669.32 -0.0001
670.02 0.0001
670.72 -0.0003
671.51 0.0004
672.31 0.0001
673.01 0.0003
673.70 -0.0001
674.50 -0.0006
675.29 -0.0003
675.99 -0.0001
676.69 0.0003
677.48 -0.0001
678.48 0.0007
679.47 0.0001
680.47 0.0004
681.47 0.0001
683.25 0.0004
};
\end{axis}
\node[anchor=west, font=\lblfont] at (387pt,255pt) {Spectrum};
\node[anchor=west, font=\fontsize{14}{16}\sffamily\selectfont] at (385pt,155pt) {O\textsubscript{2}};
\node[anchor=west, font=\lblfont] at (381pt,90pt) {residual};
\node[rotate=90, font=\lblfont] at (335pt,145pt) {OD};
\node[font=\lblfont] at (496pt,7pt) {Wavelength [nm]};
\end{tikzpicture}
\end{document}
